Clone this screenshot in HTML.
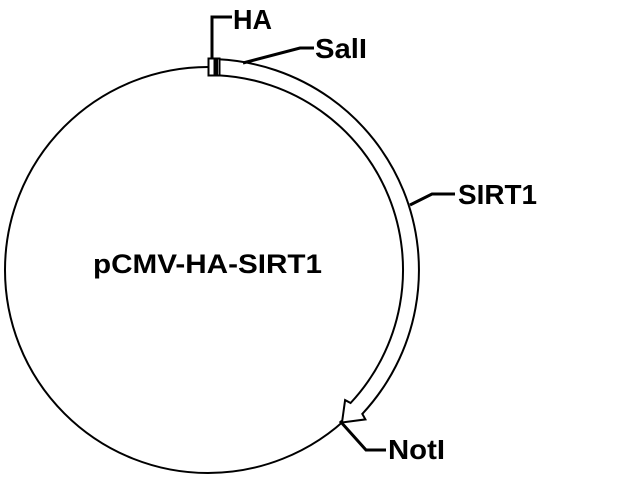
<!DOCTYPE html>
<html><head><meta charset="utf-8"><style>html,body{margin:0;padding:0;background:#fff}svg{display:block}</style></head>
<body>
<svg width="640" height="480" viewBox="0 0 640 480" xmlns="http://www.w3.org/2000/svg">
<rect width="640" height="480" fill="#fff"/>
<g fill="none" stroke="#000" stroke-width="2">
<circle cx="208" cy="270" r="203"/>
<path d="M218.3,59.3 A211,211 0 0 1 362.3,413.9 L365.4,419.4 L342,422.5 L345.1,400.1 L350.6,403 A195,195 0 0 0 217.5,75.2" fill="#fff"/>
<rect x="208.5" y="58.5" width="11" height="17" fill="#fff"/>
<line x1="214" y1="59" x2="214" y2="76" stroke-width="1"/>
<rect x="214" y="59" width="4" height="16" fill="#000" stroke="none"/>
<polyline points="212,58 212,17 232,17" stroke-width="3"/>
<polyline points="243,63 300,48 314,48" stroke-width="3"/>
<polyline points="410,205 432,194 455,194" stroke-width="3"/>
<polyline points="340,421 366,450 386,450" stroke-width="3"/>
</g>
<g font-family="Liberation Sans, Arial, sans-serif" font-weight="bold" font-size="28" fill="#000">
<text x="233" y="29" textLength="39" lengthAdjust="spacingAndGlyphs">HA</text>
<text x="315" y="58" textLength="52" lengthAdjust="spacingAndGlyphs">SalI</text>
<text x="458" y="204" textLength="79" lengthAdjust="spacingAndGlyphs">SIRT1</text>
<text x="388" y="459" textLength="57" lengthAdjust="spacingAndGlyphs">NotI</text>
<text x="93" y="273" font-size="27" textLength="229" lengthAdjust="spacingAndGlyphs">pCMV-HA-SIRT1</text>
</g>
</svg>
</body></html>
